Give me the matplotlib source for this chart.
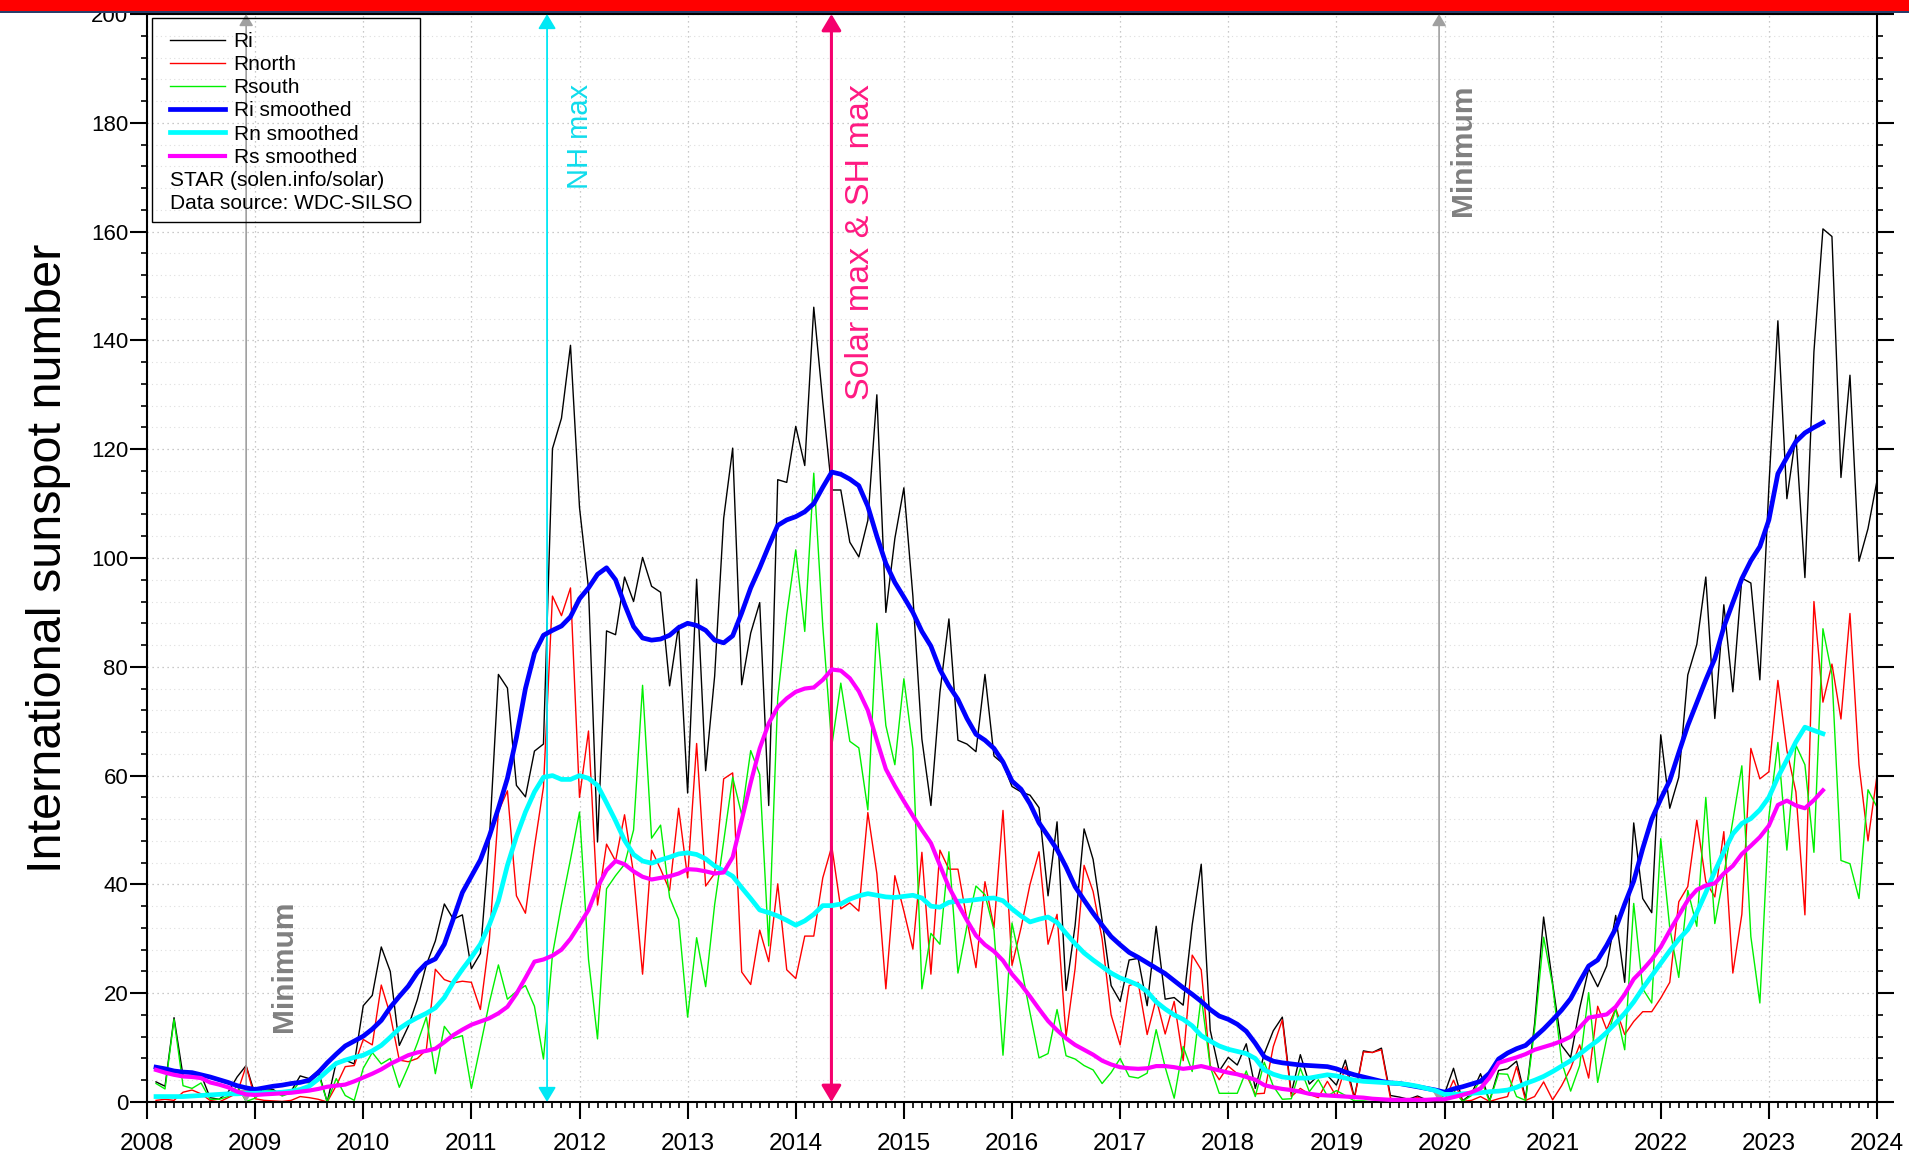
import numpy as np
import matplotlib
matplotlib.use('Agg')
import matplotlib.pyplot as plt
from matplotlib.patches import Rectangle
from matplotlib.ticker import MultipleLocator

plt.rcParams['font.family'] = ['Liberation Sans', 'DejaVu Sans']

# monthly sunspot numbers, Jan 2008 .. Dec 2023 (one row per year)
ri = [3.7, 2.9, 15.5, 4.8, 4.7, 5.0, 0.8, 0.5, 1.8, 4.6, 6.7, 1.3,
      2.5, 2.3, 1.2, 2.0, 4.8, 4.3, 5.8, 0.0, 7.3, 7.7, 7.0, 17.7,
      19.6, 28.5, 24.0, 10.4, 13.9, 18.8, 25.2, 29.6, 36.4, 33.6, 34.4, 24.5,
      27.3, 48.3, 78.6, 76.1, 58.2, 56.1, 64.5, 65.8, 120.1, 125.7, 139.1, 109.3,
      94.4, 47.8, 86.6, 85.9, 96.5, 92.0, 100.1, 94.8, 93.7, 76.5, 87.6, 56.8,
      96.1, 60.9, 78.3, 107.3, 120.2, 76.7, 86.2, 91.8, 54.5, 114.4, 113.9, 124.2,
      117.0, 146.1, 128.7, 112.5, 112.5, 102.9, 100.2, 106.9, 130.0, 90.0, 103.6, 112.9,
      93.0, 66.7, 54.5, 75.3, 88.8, 66.5, 65.8, 64.4, 78.6, 63.6, 62.2, 58.0,
      57.0, 56.4, 54.1, 37.9, 51.5, 20.5, 32.4, 50.2, 44.6, 33.4, 21.4, 18.5,
      26.1, 26.4, 17.7, 32.3, 18.9, 19.2, 17.8, 32.6, 43.7, 13.2, 5.7, 8.2,
      6.8, 10.7, 2.5, 8.9, 13.1, 15.6, 1.6, 8.7, 3.3, 4.9, 4.9, 3.1,
      7.7, 0.8, 9.4, 9.1, 9.9, 1.2, 0.9, 0.5, 1.1, 0.4, 0.5, 1.5,
      6.2, 0.2, 1.5, 5.2, 0.2, 5.8, 6.1, 7.5, 0.6, 14.4, 34.0, 21.8,
      10.4, 8.2, 17.2, 24.5, 21.2, 25.0, 34.3, 22.0, 51.3, 37.4, 34.8, 67.5,
      54.0, 59.7, 78.5, 84.1, 96.5, 70.5, 91.4, 75.4, 96.3, 95.4, 77.6, 113.1,
      143.6, 110.9, 122.6, 96.4, 137.9, 160.5, 159.1, 114.8, 133.6, 99.4, 105.4, 114.2]

rnorth = [0.3, 0.5, 0.3, 1.8, 2.2, 1.5, 0.3, 0.0, 0.8, 1.6, 6.6, 0.6,
          0.3, 0.2, 0.1, 0.3, 1.0, 0.8, 0.5, 0.0, 3.0, 6.5, 6.7, 11.5,
          10.5, 21.5, 16.0, 7.7, 7.4, 8.0, 9.6, 24.4, 22.5, 21.9, 22.2, 22.0,
          17.0, 30.0, 53.4, 57.2, 37.9, 34.7, 46.9, 57.9, 93.0, 89.4, 94.5, 56.0,
          68.2, 36.2, 47.4, 44.3, 52.8, 42.0, 23.5, 46.3, 42.8, 38.9, 54.0, 41.2,
          65.9, 39.7, 42.0, 59.4, 60.5, 23.9, 21.6, 31.6, 25.8, 40.1, 24.3, 22.7,
          30.5, 30.5, 41.2, 47.0, 35.5, 36.6, 35.1, 53.2, 42.0, 20.8, 41.6, 35.1,
          28.1, 45.9, 23.5, 46.3, 42.8, 42.8, 33.5, 24.7, 40.5, 32.0, 53.6, 25.1,
          32.0, 40.0, 46.0, 29.0, 34.5, 12.0, 24.5, 43.5, 38.7, 30.0, 16.0, 10.5,
          21.4, 22.0, 12.4, 19.0, 12.5, 18.5, 7.6, 27.0, 24.3, 6.7, 4.1, 6.6,
          5.2, 5.0, 1.5, 1.6, 10.2, 15.1, 1.0, 2.5, 1.4, 0.8, 3.8, 1.0,
          6.5, 0.6, 9.2, 9.1, 9.6, 0.7, 0.3, 0.2, 0.9, 0.1, 0.2, 0.3,
          4.0, 0.1, 0.3, 1.0, 0.1, 0.6, 1.0, 6.5, 0.3, 1.0, 3.7, 0.4,
          3.0, 6.2, 10.5, 4.4, 17.6, 13.3, 17.2, 12.4, 14.8, 16.6, 16.6, 19.1,
          22.0, 36.8, 39.6, 51.8, 40.5, 37.7, 49.7, 23.7, 34.5, 65.0, 59.4, 60.7,
          77.5, 64.6, 57.0, 34.4, 92.0, 73.5, 80.5, 70.4, 89.8, 62.0, 48.0, 60.0]

rsouth = [3.4, 2.4, 15.2, 3.0, 2.5, 3.5, 0.5, 0.5, 1.0, 3.0, 0.1, 0.7,
          2.2, 2.1, 1.1, 1.7, 3.8, 3.5, 5.3, 0.0, 4.3, 1.2, 0.3, 6.2,
          9.1, 7.0, 8.0, 2.7, 6.5, 10.8, 15.6, 5.2, 13.9, 11.7, 12.2, 2.5,
          10.3, 18.3, 25.2, 18.9, 20.3, 21.4, 17.6, 7.9, 27.1, 36.3, 44.6, 53.3,
          26.2, 11.6, 39.2, 41.6, 43.7, 50.0, 76.6, 48.5, 50.9, 37.6, 33.6, 15.6,
          30.2, 21.2, 36.3, 47.9, 59.7, 52.8, 64.6, 60.2, 28.7, 74.3, 89.6, 101.5,
          86.5, 115.6, 87.5, 65.5, 77.0, 66.3, 65.1, 53.7, 88.0, 69.2, 62.0, 77.8,
          64.9, 20.8, 31.0, 29.0, 46.0, 23.7, 32.3, 39.7, 38.1, 31.6, 8.6, 32.9,
          25.0, 16.4, 8.1, 8.9, 17.0, 8.5, 7.9, 6.7, 5.9, 3.4, 5.4, 8.0,
          4.7, 4.4, 5.3, 13.3, 6.4, 0.7, 10.2, 5.6, 19.4, 6.5, 1.6, 1.6,
          1.6, 5.7, 1.0, 7.3, 2.9, 0.5, 0.6, 6.2, 1.9, 4.1, 1.1, 2.1,
          1.2, 0.2, 0.2, 0.0, 0.3, 0.5, 0.6, 0.3, 0.2, 0.3, 0.3, 1.2,
          2.2, 0.1, 1.2, 4.2, 0.1, 5.2, 5.1, 1.0, 0.3, 13.4, 30.3, 21.4,
          7.4, 2.0, 6.7, 20.1, 3.6, 11.7, 17.1, 9.6, 36.5, 20.8, 18.2, 48.4,
          32.0, 22.9, 38.9, 32.3, 56.0, 32.8, 41.7, 51.7, 61.8, 30.4, 18.2, 52.4,
          66.1, 46.3, 65.6, 62.0, 45.9, 87.0, 78.6, 44.4, 43.8, 37.4, 57.4, 54.2]

# 13-month smoothed values, Jan 2008 .. Jun 2023
ri_smooth = [6.4, 6.1, 5.7, 5.5, 5.4, 5.0, 4.6, 4.1, 3.6, 3.0, 2.6, 2.3,
             2.6, 2.9, 3.1, 3.4, 3.6, 4.0, 5.4, 7.2, 8.8, 10.3, 11.2, 12.1,
             13.4, 15.0, 17.4, 19.4, 21.3, 23.8, 25.5, 26.3, 29.0, 33.7, 38.5, 41.5,
             44.5, 48.9, 54.0, 59.5, 67.0, 76.0, 82.5, 85.8, 86.7, 87.5, 89.2, 92.5,
             94.5, 97.0, 98.2, 96.0, 91.5, 87.4, 85.3, 84.9, 85.1, 85.8, 87.2, 88.0,
             87.6, 86.7, 84.9, 84.4, 85.7, 89.9, 94.5, 98.2, 102.2, 106.0, 107.0, 107.6,
             108.5, 110.0, 113.0, 115.8, 115.4, 114.5, 113.3, 109.5, 104.0, 99.0, 95.5, 92.8,
             90.0, 86.5, 83.8, 79.5, 76.5, 74.0, 70.5, 67.6, 66.5, 65.0, 62.5, 59.0,
             57.5, 54.8, 51.3, 48.9, 46.4, 43.2, 39.6, 37.1, 34.7, 32.5, 30.4, 28.9,
             27.5, 26.6, 25.6, 24.6, 23.6, 22.3, 21.0, 19.8, 18.5, 17.0, 15.8, 15.2,
             14.3, 13.0, 10.8, 8.3, 7.5, 7.2, 7.0, 6.8, 6.7, 6.6, 6.5, 6.1,
             5.5, 5.0, 4.6, 4.2, 3.8, 3.5, 3.4, 3.1, 2.8, 2.5, 2.2, 1.8,
             2.4, 2.8, 3.3, 3.8, 5.3, 7.9, 9.0, 9.8, 10.4, 11.9, 13.4, 15.1,
             16.9, 19.0, 22.1, 25.0, 26.1, 28.8, 31.9, 36.4, 40.6, 46.6, 52.0, 55.7,
             59.1, 64.2, 69.2, 73.4, 77.6, 81.5, 87.3, 91.8, 96.2, 99.5, 102.1, 107.0,
             115.5, 118.5, 121.4, 123.0, 124.0, 124.9]

rn_smooth = [1.0, 1.0, 1.0, 1.0, 1.1, 1.2, 1.3, 1.4, 1.5, 1.5, 1.6, 1.6,
             1.7, 1.7, 1.8, 2.0, 2.3, 2.9, 4.2, 5.7, 7.1, 7.7, 8.2, 8.6,
             9.4, 10.4, 11.9, 13.5, 14.6, 15.5, 16.3, 17.3, 19.2, 22.0, 24.4, 26.6,
             29.0, 32.6, 37.0, 43.5, 48.8, 53.3, 57.0, 59.7, 60.0, 59.3, 59.3, 60.0,
             59.5, 58.2, 55.0, 51.7, 48.1, 45.5, 44.3, 43.9, 44.5, 45.0, 45.6, 45.8,
             45.5, 44.7, 43.4, 42.5, 41.5, 39.4, 37.4, 35.3, 34.8, 34.2, 33.4, 32.5,
             33.3, 34.5, 36.1, 36.1, 36.4, 37.3, 37.9, 38.3, 38.0, 37.7, 37.6, 37.8,
             38.0, 37.5, 36.0, 35.8, 36.7, 36.9, 37.0, 37.2, 37.4, 37.5, 37.0, 35.5,
             34.2, 33.1, 33.6, 34.0, 33.0, 31.0, 29.1, 27.4, 26.1, 24.9, 23.7, 22.8,
             22.2, 21.5, 20.3, 18.4, 17.1, 16.0, 15.2, 14.0, 12.2, 11.2, 10.3, 9.7,
             9.3, 8.9, 8.0, 5.9, 5.1, 4.6, 4.4, 4.4, 4.4, 4.7, 5.0, 4.8,
             4.4, 4.0, 3.8, 3.7, 3.6, 3.5, 3.4, 3.2, 2.9, 2.5, 2.1, 1.4,
             1.4, 1.5, 1.6, 1.7, 1.9, 2.0, 2.2, 2.7, 3.4, 4.0, 4.7, 5.6,
             6.6, 7.6, 8.8, 10.1, 11.3, 12.8, 14.5, 16.3, 18.4, 20.9, 23.2, 25.5,
             27.8, 29.9, 31.7, 34.8, 38.5, 42.4, 46.0, 49.3, 51.2, 52.1, 53.7, 56.0,
             59.7, 62.9, 66.2, 68.9, 68.3, 67.7]

rs_smooth = [5.9, 5.4, 5.0, 4.7, 4.6, 4.4, 3.6, 3.2, 2.7, 1.9, 1.4, 1.3,
             1.4, 1.5, 1.6, 1.7, 1.9, 2.1, 2.4, 2.8, 3.0, 3.2, 3.8, 4.5,
             5.2, 6.0, 7.0, 7.8, 8.6, 9.1, 9.4, 9.8, 11.0, 12.3, 13.3, 14.2,
             14.8, 15.4, 16.3, 17.5, 19.9, 22.8, 25.8, 26.2, 26.9, 28.0, 30.0, 32.6,
             35.3, 39.5, 42.6, 44.3, 43.7, 42.4, 41.4, 40.9, 41.2, 41.5, 42.0, 42.8,
             42.7, 42.4, 42.0, 42.2, 45.0, 51.8, 58.7, 65.0, 69.6, 72.6, 74.2, 75.4,
             76.0, 76.2, 77.6, 79.5, 79.3, 77.9, 75.5, 72.0, 66.5, 61.2, 58.1, 55.3,
             52.6, 50.0, 47.6, 43.5, 39.5, 36.4, 33.4, 30.6, 28.9, 27.7, 26.0, 23.5,
             21.6, 19.4, 17.1, 14.9, 13.2, 11.7, 10.5, 9.6, 8.7, 7.6, 6.9, 6.4,
             6.2, 6.1, 6.2, 6.6, 6.6, 6.4, 6.1, 6.3, 6.6, 6.2, 5.8, 5.4,
             5.1, 4.6, 4.1, 3.1, 2.7, 2.4, 2.2, 1.9, 1.5, 1.3, 1.2, 1.1,
             1.0, 0.9, 0.8, 0.6, 0.5, 0.4, 0.4, 0.4, 0.4, 0.4, 0.5, 0.5,
             0.9, 1.3, 1.8, 2.5, 4.5, 7.2, 7.7, 8.2, 8.8, 9.6, 10.1, 10.6,
             11.2, 12.0, 13.7, 15.5, 15.8, 16.1, 17.5, 19.8, 22.6, 24.3, 26.2, 28.5,
             31.5, 34.3, 37.1, 39.0, 39.8, 40.2, 42.0, 43.4, 45.6, 47.1, 48.7, 50.8,
             54.6, 55.4, 54.5, 54.0, 55.5, 57.3]

minima = [2008.917, 2019.95]
nh_max = 2011.70
solar_max = 2014.33

W, H = 1909, 1154
fig = plt.figure(figsize=(W / 100, H / 100), dpi=100)
ax = fig.add_axes([147 / W, 1 - 1102 / H, 1730 / W, 1088 / H])

t = 2008 + np.arange(1, len(ri) + 1) / 12
ts = 2008 + np.arange(1, len(ri_smooth) + 1) / 12

h1, = ax.plot(t, ri, color='black', lw=1.0, label='Ri', zorder=2)
h2, = ax.plot(t, rnorth, color='#ff0000', lw=1.0, label='Rnorth', zorder=2)
h3, = ax.plot(t, rsouth, color='#00f000', lw=1.0, label='Rsouth', zorder=2)
h4, = ax.plot(ts, ri_smooth, color='#0000ff', lw=3.4, label='Ri smoothed', zorder=4)
h5, = ax.plot(ts, rn_smooth, color='#00ffff', lw=3.4, label='Rn smoothed', zorder=4)
h6, = ax.plot(ts, rs_smooth, color='#ff00ff', lw=3.0, label='Rs smoothed', zorder=4)


def event_line(x, color, lw, size):
    ax.annotate('', xy=(x, 200), xytext=(x, 0),
                arrowprops=dict(arrowstyle='<|-|>,head_length=0.5,head_width=0.3',
                                color=color, lw=lw, shrinkA=0, shrinkB=0,
                                mutation_scale=size),
                annotation_clip=False, zorder=3)


for m in minima:
    event_line(m, '#a0a0a0', 1.2, 14)
event_line(nh_max, '#00e8f5', 1.3, 18)
event_line(solar_max, '#f5006e', 2.2, 20)

ax.text(2012.0, 177.5, 'NH max', rotation=90, color='#10dcec', fontsize=21,
        ha='center', va='center', zorder=6)
ax.text(2014.6, 158, 'Solar max & SH max', rotation=90, color='#ff1a82',
        fontsize=24.5, ha='center', va='center', zorder=6)
ax.text(2020.17, 175, 'Minimum', rotation=90, color='#808080', fontsize=21.5,
        fontweight='bold', ha='center', va='center', zorder=6)
ax.text(2009.27, 25, 'Minimum', rotation=90, color='#808080', fontsize=21.5,
        fontweight='bold', ha='center', va='center', zorder=6)

ax.set_xlim(2008, 2024)
ax.set_ylim(0, 200)
ax.xaxis.set_major_locator(MultipleLocator(1))
ax.xaxis.set_minor_locator(MultipleLocator(1 / 12))
ax.yaxis.set_major_locator(MultipleLocator(20))
ax.yaxis.set_minor_locator(MultipleLocator(4))
ax.tick_params(which='major', direction='out', length=12, width=1.5,
               right=True, pad=1.5)
ax.tick_params(which='minor', direction='out', length=4.5, width=1.2, right=True)
ax.tick_params(axis='y', which='major', labelsize=16)
ax.tick_params(axis='x', which='major', pad=10.5, labelsize=17.5)
for s in ax.spines.values():
    s.set_linewidth(1.5)

ax.set_axisbelow(True)
ax.grid(which='major', color='#b8b8b8', linestyle=(0, (1, 3)), lw=0.9)
ax.grid(which='minor', axis='y', color='#dedede', linestyle=(0, (1, 3)), lw=0.8)

ax.set_ylabel('International sunspot number', fontsize=35)
ax.yaxis.set_label_coords(-0.044, 0.5)

# legend box
leg = fig.legend(handles=[h1, h2, h3, h4, h5, h6], loc='upper left',
                 bbox_to_anchor=(170 / W, 1 - 32 / H), bbox_transform=fig.transFigure,
                 frameon=False, borderpad=0, borderaxespad=0, handlelength=2.65,
                 handletextpad=0.4, labelspacing=0.2, fontsize=15)
fig.add_artist(Rectangle((152 / W, 1 - 222 / H), 268 / W, 204 / H,
                         transform=fig.transFigure, facecolor='none',
                         edgecolor='black', lw=1.0, zorder=5))

fig.canvas.draw()
r = fig.canvas.get_renderer()
boxes = [tx.get_window_extent(r) for tx in leg.get_texts()]
pitch = boxes[0].y0 - boxes[1].y0
for i, line in enumerate(['STAR (solen.info/solar)', 'Data source: WDC-SILSO']):
    fig.text(170 / W, (boxes[-1].y0 - (i + 1) * pitch) / H, line,
             fontsize=15, va='bottom', ha='left', zorder=6)

# red header band at the top
fig.add_artist(Rectangle((0, 1 - 11 / H), 1, 11 / H, transform=fig.transFigure,
                         facecolor='#ff0000', edgecolor='none', zorder=10))
fig.add_artist(Rectangle((0, 1 - 13 / H), 1, 2 / H, transform=fig.transFigure,
                         facecolor='#2a3d6a', edgecolor='none', zorder=10))

fig.savefig('out.png', dpi=100)
